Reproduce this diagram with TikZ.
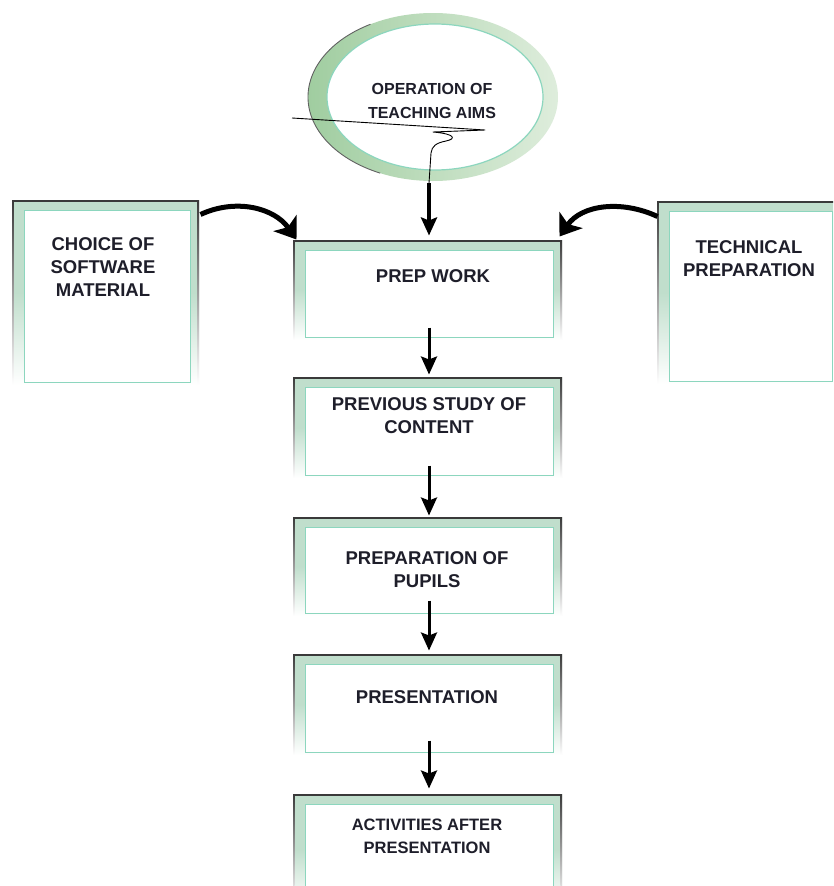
\documentclass[tikz,border=0pt]{standalone}
\usepackage{fontspec}
\setmainfont{Liberation Sans}
\usetikzlibrary{arrows.meta,shapes.geometric,fit}

\definecolor{mint}{RGB}{192,222,204}
\definecolor{edgeteal}{RGB}{140,214,190}
\definecolor{edgedark}{RGB}{58,58,58}
\definecolor{ink}{RGB}{30,30,42}
\definecolor{ringdark}{RGB}{160,205,160}
\definecolor{ringlight}{RGB}{222,237,220}

\tikzset{
  x=1pt, y=-1pt,
  band/.style={top color=mint, bottom color=white, middle color=mint},
  sideedge/.style={top color=edgedark, bottom color=white},
  inbox/.style={rectangle, draw=edgeteal, line width=1pt, fill=white, inner sep=0pt},
  lbl/.style={font=\bfseries\fontsize{18.5}{23}\selectfont, text=ink, align=center,
              inner sep=0pt, anchor=north},
  smalllbl/.style={lbl, font=\bfseries\fontsize{16.5}{23}\selectfont},
  flow/.style={draw=black, line width=3pt,
               -{Stealth[length=18pt, width=16pt, inset=3pt]}},
  swoop/.style={draw=black, line width=5pt,
                -{Stealth[length=20pt, width=28pt, inset=5pt]}},
  squiggle/.style={draw=black, line width=0.9pt, line join=round},
}

% framed stage: mint band fading downwards, dark rim, white inner panel
\newcommand\stagebox[5]{%
  \shade[band] (#2,#3) rectangle (#4,#5);
  \shade[sideedge] (#2,#3) rectangle ({#2+1.6},#5);
  \shade[sideedge] ({#4-1.6},#3) rectangle (#4,#5);
  \fill[edgedark] (#2,#3) rectangle (#4,{#3+1.6});
  \node[inbox, fit={({#2+12},{#3+10}) ({#4-9},{#5-3})}] (#1) {};
}

\begin{document}
\begin{tikzpicture}
\useasboundingbox (0,0) rectangle (833,886);
\clip (0,0) rectangle (833,886);
\fill[white] (0,0) rectangle (833,886);

% aims ellipse
\node[ellipse, minimum width=250pt, minimum height=168pt, inner sep=0pt,
      left color=ringdark, right color=ringlight] (ring) at (433,97) {};
\draw[edgedark!80, line width=0.9pt]
  ([shift={(120:125pt and 84pt)}]ring.center)
  arc[start angle=120, end angle=245, x radius=125pt, y radius=84pt];
\node[ellipse, minimum width=216pt, minimum height=146pt, inner sep=0pt,
      fill=white, draw=edgeteal, line width=1.2pt] (ringin) at (435,97) {};
\node[lbl, font=\bfseries\fontsize{16}{24}\selectfont] (aims) at (432,83)
  {OPERATION OF\\TEACHING AIMS};

% stages
\stagebox{choice}{12}{200}{199}{385}
\stagebox{tech}{657}{201}{841}{384}
\stagebox{prep}{293}{240}{562}{340}
\stagebox{prev}{293}{377}{562}{478}
\stagebox{pupils}{293}{517}{562}{616}
\stagebox{pres}{293}{654}{562}{755}
\stagebox{after}{293}{794}{562}{905}

\node[lbl] (choice-t) at (103,237) {CHOICE OF\\SOFTWARE\\MATERIAL};
\node[lbl] (tech-t) at (749,240) {TECHNICAL\\PREPARATION};
\node[lbl] (prep-t) at (433,269) {PREP WORK};
\node[lbl] (prev-t) at (429,397) {PREVIOUS STUDY OF\\CONTENT};
\node[lbl] (pupils-t) at (427,551) {PREPARATION OF\\PUPILS};
\node[lbl] (pres-t) at (427,690) {PRESENTATION};
\node[smalllbl] (after-t) at (427,819) {ACTIVITIES AFTER\\PRESENTATION};

% squiggled lead-in from the aims
\coordinate (sqa) at (292,118);
\coordinate (sqb) at (429,183);
\draw[squiggle] (sqa) -- (485,130) -- (433,132)
  .. controls (456,134) and (456,139) .. (446,141)
  .. controls (436,143) and (432,146) .. (431,153) -- (sqb);
\draw[flow, line width=4pt] (sqb) -- ([yshift=14pt]prep.north);

% side inputs
\draw[swoop] ([xshift=10pt, yshift=-5pt]choice.north east)
  to[out=25, in=125] ([xshift=-8pt, yshift=10pt]prep.north west);
\draw[swoop] ([xshift=-11pt, yshift=-6pt]tech.north west)
  to[out=155, in=55] ([xshift=6pt, yshift=13pt]prep.north east);

% main sequence
\draw[flow] ([yshift=10pt]prep.south) -- ([yshift=12pt]prev.north);
\draw[flow] ([yshift=10pt]prev.south) -- ([yshift=11pt]pupils.north);
\draw[flow] ([yshift=13pt]pupils.south) -- ([yshift=13pt]pres.north);
\draw[flow] ([yshift=12pt]pres.south) -- ([yshift=15pt]after.north);
\end{tikzpicture}
\end{document}
